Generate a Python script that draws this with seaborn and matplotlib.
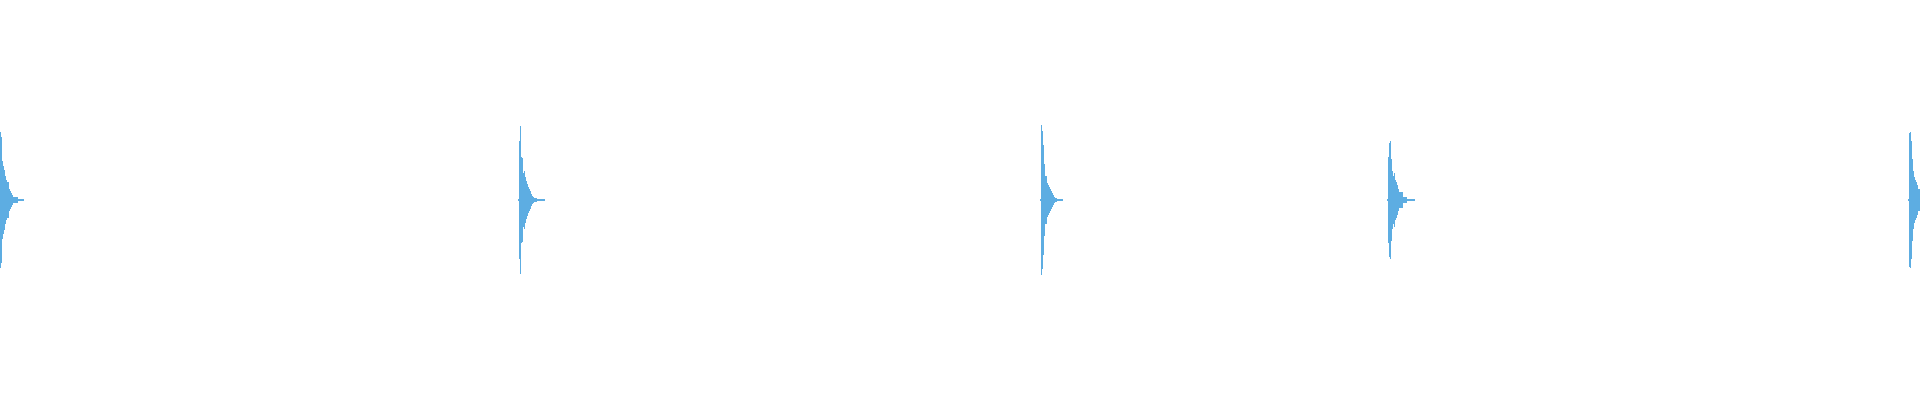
import numpy as np
import matplotlib
matplotlib.use("Agg")
import matplotlib.pyplot as plt
import seaborn as sns

# onset of each click (in pixel columns of the 1920 px wide track)
onsets = [-1, 518, 1040, 1387, 1908]

# peak amplitude per column after the onset (fraction of half height)
# first value is the small flat bit before the attack
burst_1 = [0.005, 0.34, 0.315, 0.195, 0.17, 0.15, 0.12, 0.10, 0.09, 0.09, 0.055, 0.045,
           0.035, 0.025, 0.015, 0.015, 0.015, 0.015, 0.015, 0.005, 0.005, 0.005, 0.005, 0.005, 0.005]
burst_2 = [0.005, 0.295, 0.37, 0.215, 0.21, 0.135, 0.145, 0.115, 0.095, 0.08, 0.065, 0.055,
           0.045, 0.03, 0.02, 0.015, 0.01, 0.01, 0.01, 0.005, 0.005, 0.005, 0.005, 0.005, 0.005, 0.005, 0.005]
burst_3 = [0.005, 0.375, 0.345, 0.275, 0.18, 0.12, 0.12, 0.085, 0.075, 0.065, 0.055, 0.045,
           0.035, 0.025, 0.015, 0.01, 0.01, 0.005, 0.005, 0.005, 0.005, 0.005, 0.005]
burst_4 = [0.005, 0.215, 0.285, 0.295, 0.205, 0.145, 0.12, 0.135, 0.10, 0.09, 0.075, 0.055,
           0.04, 0.04, 0.04, 0.04, 0.015, 0.015, 0.015, 0.015, 0.005, 0.005, 0.005, 0.005,
           0.005, 0.005, 0.005, 0.005]
burst_5 = [0.005, 0.335, 0.34, 0.295, 0.205, 0.145, 0.115, 0.10, 0.09, 0.075, 0.055, 0.055]

bursts = [burst_1, burst_2, burst_3, burst_4, burst_5]
wave_color = "#5DADE2"

sns.set_theme(style="white")
fig = plt.figure(figsize=(19.2, 4), dpi=100)
ax = fig.add_axes([0, 0, 1, 1])

for start, amps in zip(onsets, bursts):
    amps = np.array(amps)
    xs = start + np.arange(len(amps))
    ax.bar(xs, 2 * amps, bottom=-amps, width=1, align="edge",
           color=wave_color, linewidth=0, antialiased=False)

ax.set_xlim(0, 1920)
ax.set_ylim(-1, 1)
ax.axis("off")

plt.savefig("out.png", dpi=100)
